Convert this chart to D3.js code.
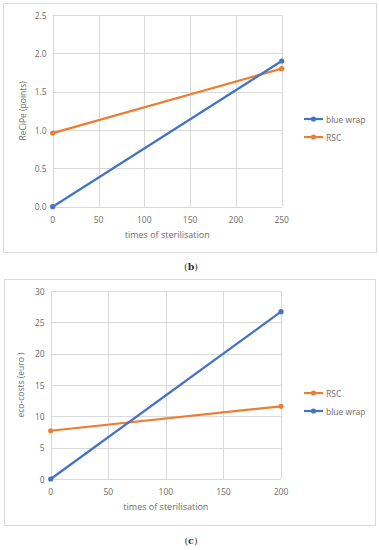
<!DOCTYPE html>
<html>
<head>
<meta charset="utf-8">
<script src="https://cdn.jsdelivr.net/npm/d3@7"></script>
<style>
  body { margin: 0; background: #fff; }
  svg { display: block; }
</style>
</head>
<body>
<svg id="chart"></svg>
<script>
// panel (b)
var bX = [0, 250];
var bBlue = [0, 1.9];
var bRSC = [0.96, 1.8];
var bXTicks = [0, 50, 100, 150, 200, 250];
var bYTicks = [0, 0.5, 1.0, 1.5, 2.0, 2.5];

// panel (c)
var cX = [0, 200];
var cRSC = [7.7, 11.6];
var cBlue = [0, 26.7];
var cXTicks = [0, 50, 100, 150, 200];
var cYTicks = [0, 5, 10, 15, 20, 25, 30];

var BLUE = "#4472C4", ORANGE = "#ED7D31";
var width = 379, height = 550;

var svg = d3.select("#chart")
    .attr("width", width)
    .attr("height", height);

function panel(opt) {
    var g = svg.append("g");

    g.append("rect")
        .attr("x", opt.frame[0] + 0.5).attr("y", opt.frame[1] + 0.5)
        .attr("width", opt.frame[2]).attr("height", opt.frame[3])
        .attr("fill", "none").attr("stroke", "#d9d9d9");

    var x = d3.scaleLinear().domain(d3.extent(opt.xTicks)).range([opt.plot[0], opt.plot[1]]);
    var y = d3.scaleLinear().domain(d3.extent(opt.yTicks)).range([opt.plot[3], opt.plot[2]]);

    // grid
    g.selectAll(".gx").data(opt.xTicks).enter().append("line")
        .attr("x1", function (d) { return Math.round(x(d)) + 0.5; })
        .attr("x2", function (d) { return Math.round(x(d)) + 0.5; })
        .attr("y1", y.range()[0]).attr("y2", y.range()[1])
        .attr("stroke", "#d9d9d9");
    g.selectAll(".gy").data(opt.yTicks).enter().append("line")
        .attr("y1", function (d) { return Math.round(y(d)) + 0.5; })
        .attr("y2", function (d) { return Math.round(y(d)) + 0.5; })
        .attr("x1", x.range()[0]).attr("x2", x.range()[1])
        .attr("stroke", "#d9d9d9");

    // tick labels
    g.selectAll(".tx").data(opt.xTicks).enter().append("text")
        .attr("x", function (d) { return x(d); })
        .attr("y", y(opt.yTicks[0]) + 16)
        .attr("text-anchor", "middle")
        .attr("class", "lbl")
        .text(function (d) { return d; });
    g.selectAll(".ty").data(opt.yTicks).enter().append("text")
        .attr("x", x(opt.xTicks[0]) - 6)
        .attr("y", function (d) { return y(d) + 3.5; })
        .attr("text-anchor", "end")
        .attr("class", "lbl")
        .text(function (d) { return opt.yFormat(d); });

    // axis titles
    g.append("text")
        .attr("x", (x.range()[0] + x.range()[1]) / 2)
        .attr("y", y(opt.yTicks[0]) + 31)
        .attr("text-anchor", "middle")
        .attr("class", "ttl")
        .text("times of sterilisation");
    g.append("text")
        .attr("transform", "translate(" + (opt.plot[0] - 27) + "," + ((opt.plot[2] + opt.plot[3]) / 2) + ") rotate(-90)")
        .attr("text-anchor", "middle")
        .attr("class", "lbl")
        .text(opt.yTitle);

    // series
    var line = d3.line()
        .x(function (d) { return x(d[0]); })
        .y(function (d) { return y(d[1]); });

    opt.series.forEach(function (s) {
        var pts = opt.xs.map(function (v, i) { return [v, s.values[i]]; });
        g.append("path")
            .attr("d", line(pts))
            .attr("fill", "none")
            .attr("stroke", s.color)
            .attr("stroke-width", 2.2);
        g.selectAll(null).data(pts).enter().append("circle")
            .attr("cx", function (d) { return x(d[0]); })
            .attr("cy", function (d) { return y(d[1]); })
            .attr("r", 2.6)
            .attr("fill", s.color);
    });

    // legend
    opt.legend.forEach(function (s, i) {
        var ly = opt.legendY + i * 18;
        g.append("line")
            .attr("x1", 304).attr("x2", 323)
            .attr("y1", ly).attr("y2", ly)
            .attr("stroke", s.color).attr("stroke-width", 2.2);
        g.append("circle")
            .attr("cx", 313.5).attr("cy", ly).attr("r", 2.6)
            .attr("fill", s.color);
        g.append("text")
            .attr("x", 326).attr("y", ly + 3.5)
            .attr("class", "lbl")
            .text(s.name);
    });

    g.append("text")
        .attr("x", 191).attr("y", opt.capY)
        .attr("text-anchor", "middle")
        .attr("class", "cap")
        .html("(<tspan font-weight='bold'>" + opt.cap + "</tspan>)");
}

panel({
    frame: [3, 3, 373, 249],
    plot: [52.7, 281.7, 15, 206.7],
    xs: bX, xTicks: bXTicks, yTicks: bYTicks,
    yFormat: d3.format(".1f"),
    yTitle: "ReCiPe (points)",
    series: [
        { name: "RSC", values: bRSC, color: ORANGE },
        { name: "blue wrap", values: bBlue, color: BLUE }
    ],
    legend: [
        { name: "blue wrap", color: BLUE },
        { name: "RSC", color: ORANGE }
    ],
    legendY: 119,
    cap: "b", capY: 270
});

panel({
    frame: [4, 279, 371, 246],
    plot: [50.7, 281, 291, 479],
    xs: cX, xTicks: cXTicks, yTicks: cYTicks,
    yFormat: d3.format("d"),
    yTitle: "eco-costs (euro )",
    series: [
        { name: "RSC", values: cRSC, color: ORANGE },
        { name: "blue wrap", values: cBlue, color: BLUE }
    ],
    legend: [
        { name: "RSC", color: ORANGE },
        { name: "blue wrap", color: BLUE }
    ],
    legendY: 393,
    cap: "c", capY: 544
});

svg.selectAll(".lbl")
    .attr("font-family", "'Open Sans', sans-serif")
    .attr("font-size", "8.5px")
    .attr("fill", "#6b6b6b");
svg.selectAll(".ttl")
    .attr("font-family", "'Open Sans', sans-serif")
    .attr("font-size", "9px")
    .attr("fill", "#6b6b6b");
svg.selectAll(".cap")
    .attr("font-family", "'DejaVu Serif', serif")
    .attr("font-size", "9.5px")
    .attr("fill", "#333");
</script>
</body>
</html>
